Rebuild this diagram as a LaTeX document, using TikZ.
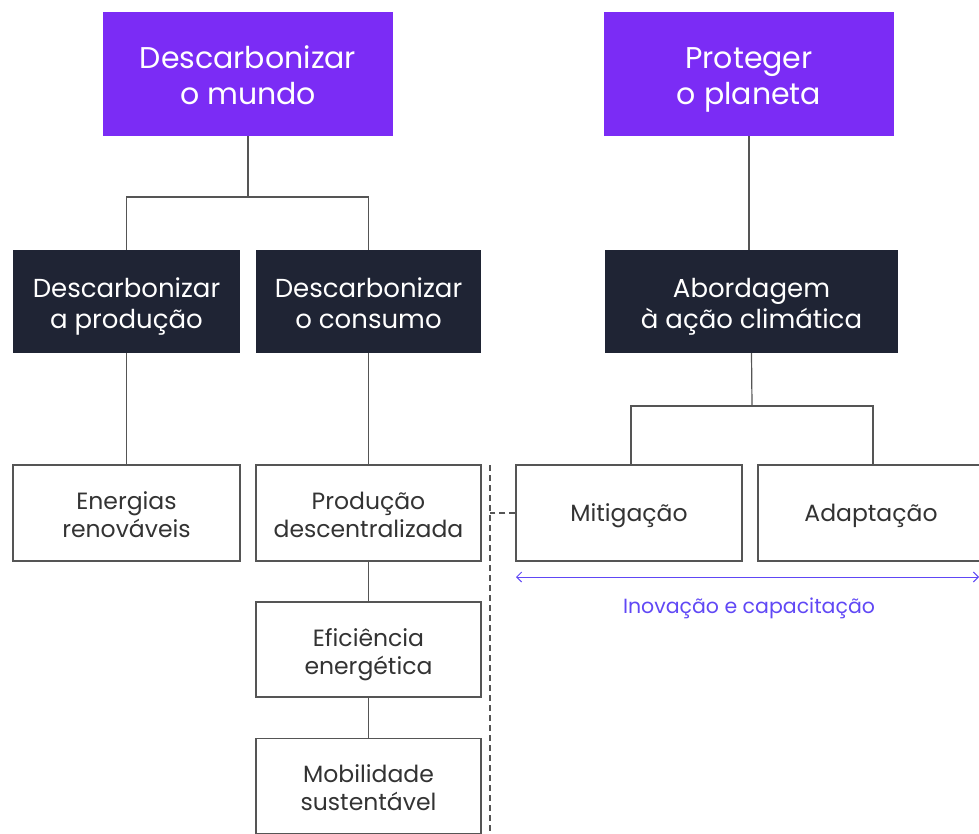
\documentclass[tikz,border=0pt]{standalone}
\usepackage{fontspec}
\setmainfont{Poppins}
\usetikzlibrary{arrows.meta}
\definecolor{violetbox}{HTML}{7B2CF5}
\definecolor{navybox}{HTML}{1F2434}
\definecolor{linegray}{HTML}{555555}
\definecolor{labelblue}{HTML}{6048F5}
\setlength{\tabcolsep}{0pt}
\newcommand{\boxlines}[2]{\begin{tabular}{c}\rule{0pt}{#1}#2\end{tabular}}
\begin{document}
\begin{tikzpicture}[x=1pt,y=-1pt,
  topbox/.style={fill=violetbox,draw=none,text=white,minimum width=290pt,minimum height=124pt,inner sep=0pt,font=\fontsize{30}{36}\selectfont},
  midbox/.style={fill=navybox,draw=none,text=white,minimum height=103pt,inner sep=0pt,font=\fontsize{26}{31}\selectfont},
  leafbox/.style={fill=white,draw=linegray,line width=1.3pt,minimum height=96pt,inner sep=0pt,font=\fontsize{23.5}{28}\selectfont\color{black!80}},
  conn/.style={draw=linegray,line width=1.2pt},
  dashline/.style={draw=linegray,line width=1.1pt,dash pattern=on 6pt off 4pt}]
\useasboundingbox (0,0) rectangle (979,833);
% top boxes
\node[topbox] (dm) at (248,74) {\boxlines{35.2pt}{Descarbonizar\\o mundo}};
\node[topbox] (pp) at (749,74) {\boxlines{35.2pt}{Proteger\\o planeta}};
% middle boxes
\node[midbox,minimum width=227pt] (dp) at (126.5,301.5) {\boxlines{31.7pt}{Descarbonizar\\a produção}};
\node[midbox,minimum width=225pt] (dc) at (368.5,301.5) {\boxlines{31.7pt}{Descarbonizar\\o consumo}};
\node[midbox,minimum width=293pt] (ab) at (751.5,301.5) {\boxlines{31.7pt}{Abordagem\\à ação climática}};
% leaves
\node[leafbox,minimum width=227pt] (er) at (126.5,513) {\boxlines{29.6pt}{Energias\\renováveis}};
\node[leafbox,minimum width=225pt] (pd) at (368.5,513) {\boxlines{29.6pt}{Produção\\descentralizada}};
\node[leafbox,minimum width=226pt] (mi) at (629,513) {\boxlines{25.6pt}{Mitigação}};
\node[leafbox,minimum width=226pt] (ad) at (871,513) {\boxlines{25.6pt}{Adaptação}};
\node[leafbox,minimum width=225pt,minimum height=95pt] (ee) at (368.5,649.5) {\boxlines{29.6pt}{Eficiência\\energética}};
\node[leafbox,minimum width=225pt,minimum height=95pt] (ms) at (368.5,786) {\boxlines{29.6pt}{Mobilidade\\sustentável}};
% connectors
\coordinate (j1) at (248,197);
\coordinate (j2) at (752,406);
\draw[conn] (dm.south) -- (j1);
\draw[conn] (dp.north) |- (j1) -| (dc.north);
\draw[conn] (pp.south) -- (pp.south |- ab.north);
\draw[conn] (ab.south) -- (j2);
\draw[conn] (mi.north -| 631,0) |- (j2) -| (ad.north -| 873,0);
\draw[conn] (dp.south) -- (er.north);
\draw[conn] (dc.south) -- (pd.north);
\draw[conn] (pd.south) -- (ee.north);
\draw[conn] (ee.south) -- (ms.north);
% dashed
\coordinate (dtop) at (490,465);
\coordinate (dbot) at (490,833);
\draw[dashline] (dtop) -- (dbot);
\draw[dashline] (mi.west) -- (mi.west -| dtop);
% arrow
\coordinate (al) at (516,577);
\coordinate (ar) at (979,577);
\draw[labelblue,line width=1pt,{Straight Barb[length=5pt,width=10pt]}-{Straight Barb[length=5pt,width=10pt]}] (al) -- (ar);
\node[text=labelblue,font=\fontsize{20.5}{24}\selectfont] (ic) at (749,608) {Inovação e capacitação};
\end{tikzpicture}
\end{document}
